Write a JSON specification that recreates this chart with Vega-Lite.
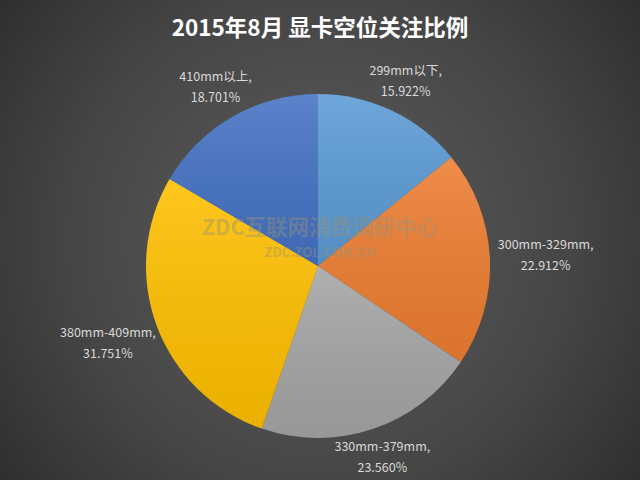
{
  "$schema": "https://vega.github.io/schema/vega-lite/v6.json",
  "width": 640,
  "height": 480,
  "autosize": {"type": "fit", "contains": "padding"},
  "padding": 0,
  "background": "#2a2a2a",
  "config": {"view": {"stroke": null}},
  "title": {
    "text": "2015年8月  显卡空位关注比例",
    "font": "Noto Sans CJK SC",
    "fontSize": 22.5,
    "fontWeight": "bold",
    "color": "#ffffff",
    "anchor": "middle",
    "baseline": "bottom",
    "offset": -63
  },
  "data": {
    "values": [
      {"name": "299mm以下", "pct": 15.922},
      {"name": "300mm-329mm", "pct": 22.912},
      {"name": "330mm-379mm", "pct": 23.560},
      {"name": "380mm-409mm", "pct": 31.751},
      {"name": "410mm以上", "pct": 18.701}
    ]
  },
  "layer": [
    {
      "data": {"values": [{}]},
      "mark": {
        "type": "rect",
        "color": {
          "gradient": "radial",
          "x1": 0.5, "y1": 0.5, "r1": 0,
          "x2": 0.5, "y2": 0.5, "r2": 0.72,
          "stops": [
            {"offset": 0, "color": "#5e5e5e"},
            {"offset": 0.55, "color": "#454545"},
            {"offset": 1, "color": "#262626"}
          ]
        }
      },
      "encoding": {}
    },
    {
      "transform": [
        {"calculate": "datum.name + ',\\n' + format(datum.pct, '.3f') + '%'", "as": "label"}
      ],
      "layer": [
        {
          "mark": {"type": "arc", "outerRadius": 172, "yOffset": 26, "xOffset": -2},
          "encoding": {
            "theta": {"field": "pct", "type": "quantitative", "stack": true},
            "order": {"field": "name", "type": "ordinal"},
            "color": {
              "field": "name",
              "type": "nominal",
              "scale": {
                "domain": ["299mm以下", "300mm-329mm", "330mm-379mm", "380mm-409mm", "410mm以上"],
                "range": ["#5B9BD5", "#ED7D31", "#A5A5A5", "#FFC000", "#4472C4"]
              },
              "legend": null
            }
          }
        },
        {
          "mark": {
            "type": "arc",
            "outerRadius": 172,
            "yOffset": 26,
            "xOffset": -2,
            "color": {
              "gradient": "linear",
              "x1": 0, "y1": 0, "x2": 0, "y2": 1,
              "stops": [
                {"offset": 0, "color": "rgba(255,255,255,0.12)"},
                {"offset": 1, "color": "rgba(0,0,0,0.08)"}
              ]
            }
          },
          "encoding": {
            "theta": {"field": "pct", "type": "quantitative", "stack": true},
            "order": {"field": "name", "type": "ordinal"},
            "detail": {"field": "name", "type": "nominal"}
          }
        },
        {
          "mark": {
            "type": "text",
            "radius": {"expr": "1/sqrt(pow(sin(scale('theta',(datum.pct_start+datum.pct_end)/2))/228,2)+pow(cos(scale('theta',(datum.pct_start+datum.pct_end)/2))/200,2))"},
            "yOffset": 26,
            "xOffset": -2,
            "dy": -10.5,
            "font": "Noto Sans CJK SC",
            "fontSize": 12.5,
            "color": "#d9d9d9",
            "lineBreak": "\n",
            "lineHeight": 21,
            "align": "center",
            "baseline": "middle"
          },
          "encoding": {
            "theta": {"field": "pct", "type": "quantitative", "stack": true},
            "order": {"field": "name", "type": "ordinal"},
            "detail": {"field": "name", "type": "nominal"},
            "text": {"field": "label", "type": "nominal"}
          }
        }
      ]
    },
    {
      "data": {"values": [{}]},
      "mark": {
        "type": "text",
        "text": "ZDC互联网消费调研中心",
        "font": "Noto Sans CJK SC",
        "fontSize": 21.5,
        "fontWeight": "bold",
        "color": "#9a9278",
        "opacity": 0.42,
        "dy": -11
      },
      "encoding": {}
    },
    {
      "data": {"values": [{}]},
      "mark": {
        "type": "text",
        "text": "ZDC.ZOL.COM.CN",
        "font": "Noto Sans CJK SC",
        "fontSize": 13,
        "fontWeight": "bold",
        "color": "#9a9278",
        "opacity": 0.42,
        "dy": 13
      },
      "encoding": {}
    }
  ]
}
